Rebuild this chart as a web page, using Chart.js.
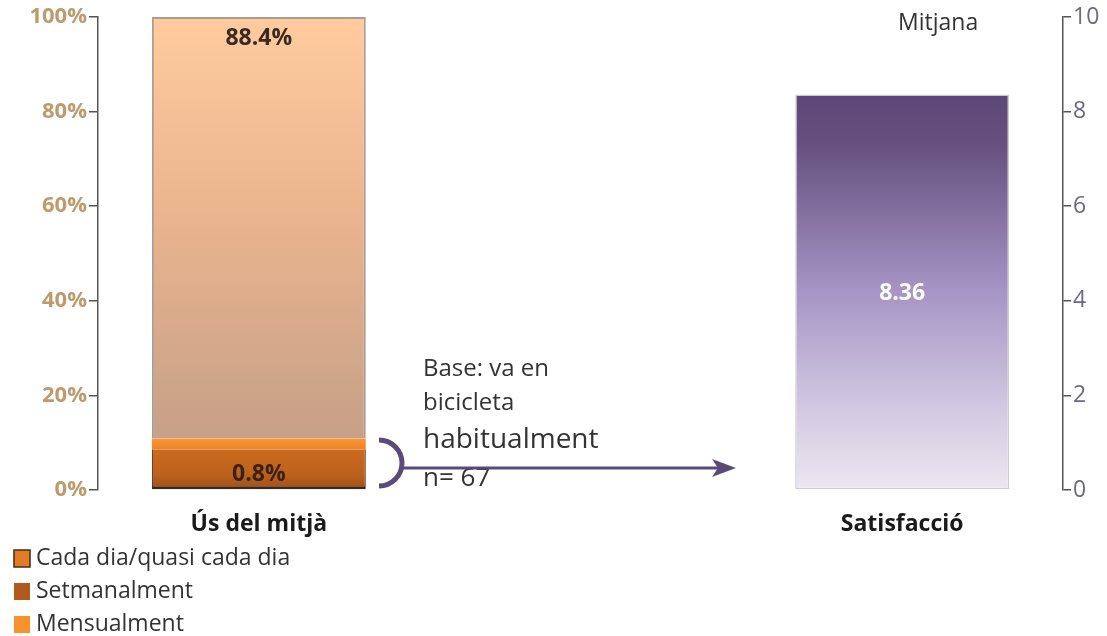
<!DOCTYPE html>
<html>
<head>
<meta charset="utf-8">
<script src="https://cdn.jsdelivr.net/npm/chart.js@4"></script>
<style>
  html, body { margin: 0; padding: 0; background: #fff; }
  #wrap { width: 1107px; height: 636px; position: relative; }
</style>
</head>
<body>
<div id="wrap"><canvas id="chart" width="1107" height="636"></canvas></div>
<script>
// categories on the x axis (middle slot left empty as in the original)
const categories = ['Ús del mitjà', '', 'Satisfacció'];

// Ús del mitjà, stacked bottom -> top
const setmanalment = [8.6, null, null];
const mensualment = [2.3, null, null];
const cadaDia = [89.1, null, null];
const usLabels = { setmanalment: '0.8%', cadaDia: '88.4%' };

// Satisfacció (mitjana, 0-10)
const satisfaccio = [null, null, 8.36];

const legendNames = ['Cada dia/quasi cada dia', 'Setmanalment', 'Mensualment'];
const legendColors = ['#e17c27', '#b05b1d', '#f7922c'];

const pctTicks = [0, 20, 40, 60, 80, 100];
const scoreTicks = [0, 2, 4, 6, 8, 10];

const FONT = '"Open Sans", "Noto Sans", sans-serif';

function segGradient(context, from, to, stops) {
    const chart = context.chart;
    const { ctx, chartArea, scales } = chart;
    if (!chartArea) return stops[0][1];
    const axis = context.dataset.yAxisID === 'y2' ? scales.y2 : scales.y;
    const g = ctx.createLinearGradient(0, axis.getPixelForValue(to), 0, axis.getPixelForValue(from));
    stops.forEach(s => g.addColorStop(s[0], s[1]));
    return g;
}

// labels inside the bars
const barLabels = {
    id: 'barLabels',
    afterDatasetsDraw(chart) {
        const ctx = chart.ctx;
        ctx.save();
        ctx.textAlign = 'center';
        ctx.textBaseline = 'middle';
        chart.data.datasets.forEach((ds, i) => {
            if (!ds.valueLabel) return;
            const meta = chart.getDatasetMeta(i);
            meta.data.forEach((bar, j) => {
                if (ds.data[j] == null) return;
                ctx.font = 'bold 23px ' + FONT;
                ctx.fillStyle = ds.valueLabelColor;
                let y = (bar.y + bar.base) / 2 + 2;
                if (ds.valueLabelAt === 'top') y = bar.y + 21;
                if (ds.valueLabelAt === 'low') y = (bar.y + bar.base) / 2 + 5;
                ctx.fillText(ds.valueLabel, bar.x, y);
            });
        });
        ctx.restore();
    }
};

// texts, bracket, arrow and legend
const extras = {
    id: 'extras',
    afterDraw(chart) {
        const ctx = chart.ctx;
        ctx.save();
        ctx.fillStyle = '#333';
        ctx.textBaseline = 'middle';
        ctx.textAlign = 'left';

        ctx.font = '23px ' + FONT;
        ctx.fillText('Mitjana', 898, 23);

        ctx.font = '24px ' + FONT;
        ctx.fillText('Base: va en', 423, 369);
        ctx.fillText('bicicleta', 423, 403);
        ctx.font = '28px ' + FONT;
        ctx.fillText('habitualment', 423, 440);
        ctx.font = '26px ' + FONT;
        ctx.fillText('n= 67', 423, 479);

        // bracket
        ctx.strokeStyle = '#5a4a78';
        ctx.lineWidth = 5;
        ctx.beginPath();
        ctx.arc(379, 463, 23, -Math.PI / 2, Math.PI / 2);
        ctx.stroke();

        // arrow
        ctx.lineWidth = 3;
        ctx.beginPath();
        ctx.moveTo(402, 468);
        ctx.lineTo(722, 468);
        ctx.stroke();
        ctx.fillStyle = '#5a4a78';
        ctx.beginPath();
        ctx.moveTo(736, 468);
        ctx.lineTo(712, 459);
        ctx.lineTo(718, 468);
        ctx.lineTo(712, 477);
        ctx.closePath();
        ctx.fill();

        // legend
        legendNames.forEach((name, i) => {
            const y = 558 + i * 33;
            ctx.fillStyle = legendColors[i];
            ctx.fillRect(14, y - 8, 16, 17);
            if (i === 0) {
                ctx.strokeStyle = '#4a2a12';
                ctx.lineWidth = 1.5;
                ctx.strokeRect(14, y - 8, 16, 17);
            }
            ctx.fillStyle = '#333';
            ctx.font = '23px ' + FONT;
            ctx.fillText(name, 36, y);
        });
        ctx.restore();
    }
};

new Chart(document.getElementById('chart'), {
    type: 'bar',
    data: {
        labels: categories,
        datasets: [
            {
                label: 'Setmanalment',
                data: setmanalment,
                yAxisID: 'y',
                backgroundColor: c => segGradient(c, 0, setmanalment[0], [[0, '#c96c1f'], [0.6, '#bd621c'], [1, '#9c5019']]),
                borderColor: '#3f2616',
                borderWidth: { top: 0, left: 1, right: 1, bottom: 3 },
                borderSkipped: false,
                valueLabel: usLabels.setmanalment,
                valueLabelColor: '#3a2212',
                valueLabelAt: 'low'
            },
            {
                label: 'Mensualment',
                data: mensualment,
                yAxisID: 'y',
                backgroundColor: c => segGradient(c, setmanalment[0], setmanalment[0] + mensualment[0], [[0, '#f9973a'], [1, '#ef8426']]),
                borderWidth: 0
            },
            {
                label: 'Cada dia/quasi cada dia',
                data: cadaDia,
                yAxisID: 'y',
                backgroundColor: c => segGradient(c, 100 - cadaDia[0], 100, [[0, '#ffcb9f'], [0.45, '#ebb58e'], [1, '#c6a088']]),
                borderColor: '#a99c92',
                borderWidth: { top: 2, left: 2, right: 2, bottom: 0 },
                borderSkipped: 'bottom',
                valueLabel: usLabels.cadaDia,
                valueLabelColor: '#3a2a20',
                valueLabelAt: 'top'
            },
            {
                label: 'Satisfacció',
                data: satisfaccio,
                yAxisID: 'y2',
                backgroundColor: c => segGradient(c, 0, satisfaccio[2], [[0, '#5d4778'], [0.12, '#65507f'], [0.5, '#a695c5'], [0.8, '#d3cae2'], [1, '#ebe7f0']]),
                borderColor: '#cfcdd3',
                borderWidth: 1.5,
                borderSkipped: false,
                valueLabel: String(satisfaccio[2]),
                valueLabelColor: '#ffffff'
            }
        ]
    },
    options: {
        responsive: false,
        animation: false,
        layout: { padding: { top: 17, left: 0, right: 0, bottom: 0 } },
        datasets: { bar: { barPercentage: 1, categoryPercentage: 0.665 } },
        plugins: { legend: { display: false }, tooltip: { enabled: false } },
        scales: {
            x: {
                stacked: true,
                grid: { display: false },
                border: { display: false },
                ticks: { color: '#1a1a1a', font: { family: FONT, size: 23, weight: 'bold' }, padding: 13 },
                afterFit: s => { s.height = 146; }
            },
            y: {
                stacked: true,
                position: 'left',
                min: 0, max: 100,
                afterBuildTicks: s => { s.ticks = pctTicks.map(v => ({ value: v })); },
                ticks: { color: '#bf9a6c', font: { family: FONT, size: 22, weight: 'bold' }, padding: 2, callback: v => v + '%' },
                grid: { drawOnChartArea: false, drawTicks: true, tickLength: 9, color: '#555', lineWidth: 1.5 },
                border: { color: '#555', width: 1.5 },
                afterFit: s => { s.width = 98; }
            },
            y2: {
                position: 'right',
                min: 0, max: 10,
                afterBuildTicks: s => { s.ticks = scoreTicks.map(v => ({ value: v })); },
                ticks: { color: '#6d6886', font: { family: FONT, size: 23 }, padding: 2 },
                grid: { drawOnChartArea: false, drawTicks: true, tickLength: 8, color: '#555', lineWidth: 1.5 },
                border: { color: '#555', width: 1.5 },
                afterFit: s => { s.width = 44; }
            }
        }
    },
    plugins: [barLabels, extras]
});
</script>
</body>
</html>
